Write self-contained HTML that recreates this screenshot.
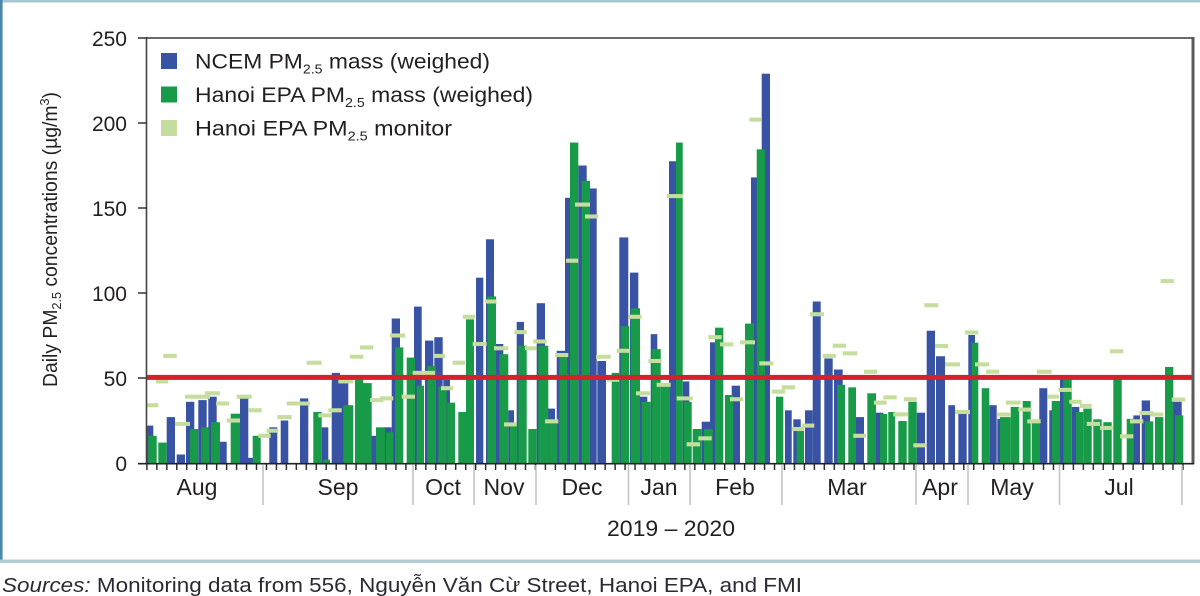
<!DOCTYPE html>
<html>
<head>
<meta charset="utf-8">
<style>
html,body{margin:0;padding:0;background:#fff;}
svg{display:block;}
text{font-family:"Liberation Sans","DejaVu Sans",sans-serif;fill:#231f20;}
</style>
</head>
<body>
<svg width="1200" height="596" viewBox="0 0 1200 596" xmlns="http://www.w3.org/2000/svg">
<defs>
<pattern id="xt" patternUnits="userSpaceOnUse" x="146.2" y="463" width="9.962" height="8">
<rect x="0" y="0" width="1.4" height="8" fill="#222"/>
</pattern>
</defs>
<rect width="1200" height="596" fill="#fff"/>
<rect x="0" y="0" width="1200" height="2.5" fill="#a9c6d3"/>
<rect x="0" y="0" width="2.6" height="562" fill="#4a88ad"/>
<rect x="0" y="559.5" width="1200" height="3.5" fill="#b3cdd8"/>

<g transform="translate(0,463) scale(1,-1.7)">
<g fill="#3953a4">
<rect x="146" y="0" width="7.3" height="22"/>
<rect x="166.7" y="0" width="8.3" height="27"/>
<rect x="176.7" y="0" width="8.3" height="5"/>
<rect x="186" y="0" width="8.3" height="36"/>
<rect x="198.3" y="0" width="8.4" height="37"/>
<rect x="208.3" y="0" width="8.4" height="39"/>
<rect x="220" y="0" width="6.7" height="12.5"/>
<rect x="240" y="0" width="8.3" height="38"/>
<rect x="247.3" y="0" width="6" height="3"/>
<rect x="269.3" y="0" width="8" height="21"/>
<rect x="280.7" y="0" width="7.6" height="25"/>
<rect x="300" y="0" width="8.3" height="38"/>
<rect x="321.7" y="0" width="6.6" height="21"/>
<rect x="331.7" y="0" width="8.3" height="53"/>
<rect x="340" y="0" width="8.3" height="49"/>
<rect x="370" y="0" width="6.7" height="16"/>
<rect x="384.3" y="0" width="7.4" height="21"/>
<rect x="391.7" y="0" width="8.3" height="85"/>
<rect x="414" y="0" width="7.7" height="92"/>
<rect x="425" y="0" width="8.3" height="72"/>
<rect x="434.3" y="0" width="8.4" height="74"/>
<rect x="443.3" y="0" width="6.7" height="49"/>
<rect x="476" y="0" width="7.3" height="109"/>
<rect x="486" y="0" width="8" height="131.6"/>
<rect x="495" y="0" width="8.3" height="70"/>
<rect x="508.3" y="0" width="5.7" height="31"/>
<rect x="516.7" y="0" width="7.3" height="83"/>
<rect x="536.7" y="0" width="8.3" height="94"/>
<rect x="547.7" y="0" width="7.3" height="32"/>
<rect x="556.7" y="0" width="8.3" height="66"/>
<rect x="565" y="0" width="6.5" height="156"/>
<rect x="578.3" y="0" width="8.4" height="175"/>
<rect x="589.3" y="0" width="7.4" height="161.5"/>
<rect x="597.3" y="0" width="8.7" height="60"/>
<rect x="619.3" y="0" width="9" height="132.7"/>
<rect x="630" y="0" width="8.3" height="112"/>
<rect x="640" y="0" width="7.3" height="39"/>
<rect x="650.7" y="0" width="6.6" height="75.8"/>
<rect x="669" y="0" width="7.7" height="177.5"/>
<rect x="682.7" y="0" width="6.6" height="48"/>
<rect x="701.7" y="0" width="10" height="24.3"/>
<rect x="710" y="0" width="6.7" height="71"/>
<rect x="731.7" y="0" width="8.3" height="45.5"/>
<rect x="751" y="0" width="6" height="168"/>
<rect x="761.7" y="0" width="8.3" height="229"/>
<rect x="785" y="0" width="6.7" height="31"/>
<rect x="793.3" y="0" width="7.4" height="25.7"/>
<rect x="805" y="0" width="7.7" height="31"/>
<rect x="812.7" y="0" width="8" height="95"/>
<rect x="824.3" y="0" width="8.4" height="61.5"/>
<rect x="834" y="0" width="8.7" height="55"/>
<rect x="856" y="0" width="8" height="27"/>
<rect x="875" y="0" width="8.3" height="29.6"/>
<rect x="916.7" y="0" width="8.3" height="29.6"/>
<rect x="926.7" y="0" width="8.3" height="77.8"/>
<rect x="936" y="0" width="9" height="62.8"/>
<rect x="948.3" y="0" width="6.7" height="34"/>
<rect x="958.3" y="0" width="8.4" height="29"/>
<rect x="968.3" y="0" width="6.7" height="75.3"/>
<rect x="989.3" y="0" width="7.4" height="34"/>
<rect x="997.3" y="0" width="7.7" height="26"/>
<rect x="1039.3" y="0" width="8" height="44"/>
<rect x="1049.3" y="0" width="4" height="31"/>
<rect x="1060" y="0" width="6.7" height="49.6"/>
<rect x="1071.7" y="0" width="7.6" height="33"/>
<rect x="1133.3" y="0" width="6.7" height="28"/>
<rect x="1141.7" y="0" width="8.3" height="36.8"/>
<rect x="1172.7" y="0" width="9" height="36"/>
</g>
<g fill="#179b48">
<rect x="148.3" y="0" width="8.4" height="16"/>
<rect x="158.3" y="0" width="8.4" height="12"/>
<rect x="190" y="0" width="8.3" height="20"/>
<rect x="201" y="0" width="8.3" height="21"/>
<rect x="211" y="0" width="9" height="24"/>
<rect x="230.7" y="0" width="9.3" height="29"/>
<rect x="252.7" y="0" width="8" height="16"/>
<rect x="313.3" y="0" width="8.4" height="30"/>
<rect x="323.3" y="0" width="6.7" height="2"/>
<rect x="343.3" y="0" width="10" height="34"/>
<rect x="355" y="0" width="8.3" height="49"/>
<rect x="361.7" y="0" width="10" height="47"/>
<rect x="376" y="0" width="9" height="21"/>
<rect x="386" y="0" width="7.3" height="18"/>
<rect x="395" y="0" width="8.3" height="68"/>
<rect x="406.7" y="0" width="8.3" height="62"/>
<rect x="416.7" y="0" width="7.3" height="45.5"/>
<rect x="427.3" y="0" width="8.7" height="57"/>
<rect x="438.3" y="0" width="8.4" height="45"/>
<rect x="447.3" y="0" width="7.7" height="35.5"/>
<rect x="458.3" y="0" width="8.4" height="30"/>
<rect x="466" y="0" width="8" height="84.5"/>
<rect x="487.3" y="0" width="8.7" height="98"/>
<rect x="499.3" y="0" width="9" height="64"/>
<rect x="510" y="0" width="7.3" height="23"/>
<rect x="518.3" y="0" width="8.4" height="69"/>
<rect x="528.3" y="0" width="8.4" height="20"/>
<rect x="538.3" y="0" width="10" height="69"/>
<rect x="548.3" y="0" width="9" height="24.5"/>
<rect x="559.3" y="0" width="8" height="63.5"/>
<rect x="570" y="0" width="8.3" height="188.5"/>
<rect x="581.7" y="0" width="8.3" height="166"/>
<rect x="611.7" y="0" width="7.6" height="53"/>
<rect x="620.7" y="0" width="8.6" height="80.5"/>
<rect x="630.7" y="0" width="9.3" height="91"/>
<rect x="641.7" y="0" width="9" height="36"/>
<rect x="651.7" y="0" width="9" height="67"/>
<rect x="660.7" y="0" width="9.3" height="45"/>
<rect x="676" y="0" width="6.7" height="188.5"/>
<rect x="684" y="0" width="7.7" height="36"/>
<rect x="692.7" y="0" width="9" height="20"/>
<rect x="704" y="0" width="8.7" height="20"/>
<rect x="715" y="0" width="8.3" height="79.6"/>
<rect x="725" y="0" width="8.3" height="40"/>
<rect x="745" y="0" width="9" height="82"/>
<rect x="756.7" y="0" width="8.3" height="184.5"/>
<rect x="776" y="0" width="7.3" height="39"/>
<rect x="796.7" y="0" width="7.3" height="19"/>
<rect x="837.3" y="0" width="7.7" height="46"/>
<rect x="848.3" y="0" width="7.7" height="44.5"/>
<rect x="867.3" y="0" width="8.7" height="41"/>
<rect x="880" y="0" width="7.3" height="28.8"/>
<rect x="888.3" y="0" width="6.7" height="30"/>
<rect x="898.3" y="0" width="8.4" height="24.7"/>
<rect x="908.3" y="0" width="8.4" height="36"/>
<rect x="971.7" y="0" width="6.6" height="70.8"/>
<rect x="981.7" y="0" width="7.6" height="44"/>
<rect x="1000" y="0" width="10.7" height="27"/>
<rect x="1010.7" y="0" width="8.6" height="33"/>
<rect x="1022.7" y="0" width="8" height="36.5"/>
<rect x="1031.7" y="0" width="8.3" height="25"/>
<rect x="1051.7" y="0" width="8.3" height="36.5"/>
<rect x="1063.3" y="0" width="8.4" height="49.6"/>
<rect x="1076" y="0" width="7.3" height="30"/>
<rect x="1083.3" y="0" width="8.4" height="32"/>
<rect x="1093.3" y="0" width="8.4" height="25.7"/>
<rect x="1103.3" y="0" width="8.4" height="24"/>
<rect x="1113.3" y="0" width="8.4" height="49.6"/>
<rect x="1126.7" y="0" width="6.6" height="26"/>
<rect x="1130" y="0" width="3.3" height="24"/>
<rect x="1145" y="0" width="8.3" height="24.5"/>
<rect x="1155" y="0" width="8.3" height="27"/>
<rect x="1165" y="0" width="8.3" height="56.5"/>
<rect x="1175" y="0" width="8.3" height="28"/>
</g>
<g fill="#c6de9d">
<rect x="146.7" y="32.8" width="11.6" height="2.4"/>
<rect x="156" y="46.8" width="12.3" height="2.4"/>
<rect x="163.3" y="61.8" width="13.4" height="2.4"/>
<rect x="175" y="21.8" width="15" height="2.4"/>
<rect x="185" y="37.8" width="13.3" height="2.4"/>
<rect x="196.7" y="37.8" width="13.3" height="2.4"/>
<rect x="205" y="39.8" width="15" height="2.4"/>
<rect x="216" y="33.8" width="13.3" height="2.4"/>
<rect x="226.7" y="23.8" width="13.3" height="2.4"/>
<rect x="236.7" y="37.8" width="15" height="2.4"/>
<rect x="248.3" y="29.8" width="13.4" height="2.4"/>
<rect x="258.3" y="14.8" width="12.4" height="2.4"/>
<rect x="266.7" y="17.8" width="11.6" height="2.4"/>
<rect x="277.3" y="25.8" width="14.4" height="2.4"/>
<rect x="286.7" y="33.8" width="11.6" height="2.4"/>
<rect x="298.3" y="33.8" width="11.7" height="2.4"/>
<rect x="306.7" y="57.8" width="15" height="2.4"/>
<rect x="318.3" y="26.8" width="13.4" height="2.4"/>
<rect x="328.3" y="29.8" width="13.4" height="2.4"/>
<rect x="338.3" y="46.8" width="15" height="2.4"/>
<rect x="350" y="61.3" width="13.3" height="2.4"/>
<rect x="360" y="66.8" width="13.3" height="2.4"/>
<rect x="370" y="35.8" width="13.3" height="2.4"/>
<rect x="380" y="36.8" width="13.3" height="2.4"/>
<rect x="390" y="73.8" width="15" height="2.4"/>
<rect x="401.7" y="37.8" width="13.3" height="2.4"/>
<rect x="412.7" y="51.8" width="10.6" height="2.4"/>
<rect x="423.3" y="51.8" width="11.7" height="2.4"/>
<rect x="433.3" y="61.8" width="11.7" height="2.4"/>
<rect x="441" y="42.8" width="12.3" height="2.4"/>
<rect x="452.7" y="57.8" width="12.3" height="2.4"/>
<rect x="462.7" y="84.8" width="12.3" height="2.4"/>
<rect x="472.7" y="68.8" width="14" height="2.4"/>
<rect x="485" y="93.8" width="11.7" height="2.4"/>
<rect x="494" y="66.3" width="14.3" height="2.4"/>
<rect x="504" y="21.5" width="12.7" height="2.4"/>
<rect x="514.3" y="75.8" width="12.4" height="2.4"/>
<rect x="525" y="66.3" width="11.7" height="2.4"/>
<rect x="533.3" y="70.3" width="13.4" height="2.4"/>
<rect x="545" y="23.3" width="13.3" height="2.4"/>
<rect x="555" y="62.3" width="13.3" height="2.4"/>
<rect x="566" y="117.8" width="12.3" height="2.4"/>
<rect x="575" y="150.8" width="15" height="2.4"/>
<rect x="585" y="143.8" width="13.3" height="2.4"/>
<rect x="596" y="61.3" width="14.7" height="2.4"/>
<rect x="606.7" y="47.8" width="12.6" height="2.4"/>
<rect x="616.7" y="64.8" width="13.3" height="2.4"/>
<rect x="628.3" y="84.8" width="13.4" height="2.4"/>
<rect x="636" y="39.8" width="14" height="2.4"/>
<rect x="648.3" y="58.8" width="13.4" height="2.4"/>
<rect x="656.7" y="44.8" width="14" height="2.4"/>
<rect x="666.7" y="155.8" width="16" height="2.4"/>
<rect x="676.7" y="36.8" width="16" height="2.4"/>
<rect x="686.7" y="9.8" width="13.3" height="2.4"/>
<rect x="698.3" y="13.3" width="13.4" height="2.4"/>
<rect x="708.3" y="72.8" width="13.4" height="2.4"/>
<rect x="720" y="68.6" width="13.3" height="2.4"/>
<rect x="730" y="36.3" width="13.3" height="2.4"/>
<rect x="740" y="69.8" width="15" height="2.4"/>
<rect x="749.3" y="200.8" width="12.4" height="2.4"/>
<rect x="759.3" y="57.4" width="14" height="2.4"/>
<rect x="771.7" y="40.8" width="13.3" height="2.4"/>
<rect x="781.7" y="43.3" width="13.3" height="2.4"/>
<rect x="791.7" y="18.8" width="12.3" height="2.4"/>
<rect x="801.7" y="20.8" width="12.6" height="2.4"/>
<rect x="810" y="86.3" width="14" height="2.4"/>
<rect x="822.7" y="61.8" width="13.3" height="2.4"/>
<rect x="832.7" y="67.8" width="13.3" height="2.4"/>
<rect x="842.7" y="63.3" width="14.6" height="2.4"/>
<rect x="853.3" y="14.8" width="12.7" height="2.4"/>
<rect x="864" y="52.5" width="13.3" height="2.4"/>
<rect x="874" y="34.3" width="12.7" height="2.4"/>
<rect x="883.3" y="37.4" width="13.4" height="2.4"/>
<rect x="893.3" y="27.4" width="15" height="2.4"/>
<rect x="904" y="36.3" width="12.7" height="2.4"/>
<rect x="913.3" y="9.2" width="12.7" height="2.4"/>
<rect x="924.3" y="91.6" width="14" height="2.4"/>
<rect x="935" y="67.6" width="13.3" height="2.4"/>
<rect x="945" y="56.8" width="15" height="2.4"/>
<rect x="955" y="28.8" width="15" height="2.4"/>
<rect x="965" y="75.6" width="13.3" height="2.4"/>
<rect x="975" y="56.8" width="14.3" height="2.4"/>
<rect x="986" y="52.5" width="13.3" height="2.4"/>
<rect x="996.7" y="27.3" width="14" height="2.4"/>
<rect x="1006" y="34.3" width="14.7" height="2.4"/>
<rect x="1018.3" y="30.2" width="13.4" height="2.4"/>
<rect x="1027.3" y="23.3" width="13.4" height="2.4"/>
<rect x="1036.7" y="52.5" width="15" height="2.4"/>
<rect x="1047.3" y="37.8" width="12" height="2.4"/>
<rect x="1058.3" y="41.8" width="13.4" height="2.4"/>
<rect x="1069.3" y="34.8" width="12.4" height="2.4"/>
<rect x="1080" y="32.4" width="11.7" height="2.4"/>
<rect x="1086.7" y="21.8" width="13.3" height="2.4"/>
<rect x="1100" y="19.4" width="13.3" height="2.4"/>
<rect x="1110" y="64.5" width="13.3" height="2.4"/>
<rect x="1120" y="14.5" width="13.3" height="2.4"/>
<rect x="1130" y="23.3" width="13.3" height="2.4"/>
<rect x="1139.3" y="28.2" width="14" height="2.4"/>
<rect x="1150" y="27.3" width="13.3" height="2.4"/>
<rect x="1160.7" y="105.8" width="13.3" height="2.4"/>
<rect x="1171.7" y="36.1" width="13.3" height="2.4"/>
</g>
</g>

<rect x="147" y="374.9" width="1046" height="5" fill="#d6202a"/>

<line x1="146.5" y1="38" x2="1194" y2="38" stroke="#6a6a6a" stroke-width="2"/>
<line x1="1193" y1="37" x2="1193" y2="464" stroke="#5a5a5a" stroke-width="3"/>
<line x1="146.5" y1="37" x2="146.5" y2="464" stroke="#444" stroke-width="1.6"/>
<line x1="138" y1="463.7" x2="1194" y2="463.7" stroke="#222" stroke-width="1.6"/>
<g stroke="#333" stroke-width="1.5">
<line x1="138" y1="38" x2="147" y2="38"/>
<line x1="138" y1="123" x2="147" y2="123"/>
<line x1="138" y1="208" x2="147" y2="208"/>
<line x1="138" y1="293" x2="147" y2="293"/>
<line x1="138" y1="378" x2="147" y2="378"/>
</g>
<rect x="146" y="463" width="1039" height="7" fill="url(#xt)"/>
<g stroke="#c4c4c4" stroke-width="1.6">
<line x1="263" y1="465" x2="263" y2="505"/>
<line x1="413" y1="465" x2="413" y2="505"/>
<line x1="474" y1="465" x2="474" y2="505"/>
<line x1="536" y1="465" x2="536" y2="505"/>
<line x1="628.5" y1="465" x2="628.5" y2="505"/>
<line x1="690" y1="465" x2="690" y2="505"/>
<line x1="782" y1="465" x2="782" y2="505"/>
<line x1="916" y1="465" x2="916" y2="505"/>
<line x1="968" y1="465" x2="968" y2="505"/>
<line x1="1059.5" y1="465" x2="1059.5" y2="505"/>
<line x1="1182" y1="465" x2="1182" y2="505"/>
</g>

<g font-size="21" text-anchor="end">
<text x="127" y="46">250</text>
<text x="127" y="131">200</text>
<text x="127" y="216">150</text>
<text x="127" y="301">100</text>
<text x="127" y="386">50</text>
<text x="127" y="471">0</text>
</g>

<text transform="translate(57,387) rotate(-90)" font-size="20" textLength="295" lengthAdjust="spacingAndGlyphs">Daily PM<tspan font-size="13" dy="4">2.5</tspan><tspan dy="-4"> concentrations (µg/m</tspan><tspan font-size="13" dy="-8">3</tspan><tspan dy="8">)</tspan></text>

<rect x="161" y="53" width="16" height="16" fill="#3953a4"/>
<rect x="161" y="86.5" width="16" height="16" fill="#179b48"/>
<rect x="161" y="120" width="16" height="16" fill="#c6de9d"/>
<g font-size="21">
<text x="195" y="68.5" textLength="295" lengthAdjust="spacingAndGlyphs">NCEM PM<tspan font-size="13" dy="5">2.5</tspan><tspan dy="-5"> mass (weighed)</tspan></text>
<text x="195" y="102" textLength="338" lengthAdjust="spacingAndGlyphs">Hanoi EPA PM<tspan font-size="13" dy="5">2.5</tspan><tspan dy="-5"> mass (weighed)</tspan></text>
<text x="195" y="135.5" textLength="257" lengthAdjust="spacingAndGlyphs">Hanoi EPA PM<tspan font-size="13" dy="5">2.5</tspan><tspan dy="-5"> monitor</tspan></text>
</g>

<g font-size="23" text-anchor="middle">
<text x="197" y="495">Aug</text>
<text x="338" y="495">Sep</text>
<text x="443" y="495">Oct</text>
<text x="504" y="495">Nov</text>
<text x="582" y="495">Dec</text>
<text x="659" y="495">Jan</text>
<text x="735" y="495">Feb</text>
<text x="847" y="495">Mar</text>
<text x="940" y="495">Apr</text>
<text x="1012" y="495">May</text>
<text x="1119" y="495">Jul</text>
</g>
<text x="607" y="536" font-size="22" textLength="128" lengthAdjust="spacingAndGlyphs">2019 – 2020</text>

<text x="2" y="592" font-size="20" textLength="800" lengthAdjust="spacingAndGlyphs" style="fill:#2a2a35"><tspan font-style="italic">Sources:</tspan> Monitoring data from 556, Nguyễn Văn Cừ Street, Hanoi EPA, and FMI</text>
</svg>
</body>
</html>
